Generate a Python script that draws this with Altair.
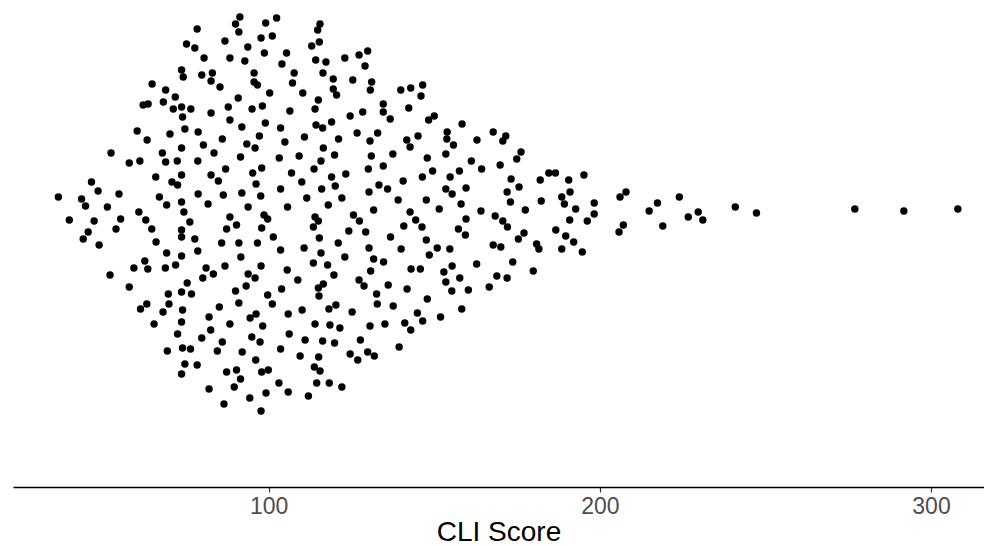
import altair as alt
import pandas as pd

# CLI score of each point and its vertical jitter (arbitrary units, 0 = centre line)
cli_score = [
    # left edge
    64.8, 68.9, 71.8, 62.1, 63.6, 68.2, 71.2, 60.3, 63.3, 70.2, 52.4, 57.9, 61.1, 67.9, 68.9,
    72.4, 65.9, 70.8, 72.5, 46.5, 48.5, 54.8, 36.5, 43.5, 44.7, 51.3, 67.0, 69.2, 60.8,
    39.8, 47.3, 55.3, 62.9, 53.9, 45.5, 44.0, 48.8, 64.7, 66.0, 69.2, 62.6, 63.5, 59.3, 68.8,
    71.9, 52.1, 57.9, 69.7, 63.2, 61.3, 69.9, 68.1, 65.4, 72.5, 69.4,
    # 73 - 118, upper half
    91.3, 90.0, 91.0, 99.1, 102.4, 115.5, 114.8, 78.4, 86.8, 97.7,
    101.1, 115.3, 113.0, 75.2, 77.7, 93.7, 80.5, 88.3, 92.8, 98.7,
    105.4, 104.0, 114.2, 117.3, 73.7, 74.2, 79.8, 83.0, 82.6, 85.3,
    95.6, 95.6, 96.6, 107.7, 107.2, 116.4, 110.3, 100.3, 90.8, 87.8,
    95.0, 98.1, 73.7, 76.5, 74.0, 82.6, 106.4, 114.0, 115.0, 88.3,
    91.9, 99.0, 103.6, 114.3, 116.3, 74.7, 78.7, 86.0, 97.2, 93.4,
    95.9, 104.9, 110.8, 73.7, 80.3, 83.5, 91.5, 103.2, 109.2, 116.5,
    78.6, 115.8, 87.0, 97.9, 95.2, 106.9, 113.7, 82.6, 84.8, 73.7,
    96.2, 110.0, 78.7, 86.3, 91.9, 97.6, 103.6, 116.0, 81.7, 93.8,
    105.7, 111.5, 118.0, 73.7,
    # 73 - 118, lower half
    74.4, 76.2, 73.7, 73.7, 77.7, 78.6, 73.7, 88.3, 90.3, 87.3,
    98.6, 99.7, 97.9, 101.4, 85.8, 91.0, 96.6, 103.6, 114.0, 115.0,
    113.5, 115.3, 110.7, 115.8, 91.6, 86.8, 97.7, 81.1, 83.3, 80.1,
    93.8, 95.9, 93.2, 90.0, 105.6, 108.8, 103.9, 113.5, 117.8, 115.0,
    116.5, 115.2, 75.4, 73.7, 76.7, 99.7, 101.1, 91.0, 85.1, 74.0,
    82.0, 94.4, 96.2, 105.9, 110.1, 118.2, 73.7, 88.3, 98.2, 82.5,
    79.8, 86.0, 84.5, 94.9, 97.4, 92.0, 103.6, 106.2, 111.0, 114.0,
    116.3, 74.0, 76.4, 109.5, 115.1, 96.1, 74.7, 78.4, 73.7, 87.3,
    90.3, 91.5, 97.9, 99.9, 113.8, 115.5, 103.1, 105.9, 114.5, 118.3,
    89.6, 82.0, 99.2, 112.0, 94.3, 86.5, 97.7,
    # 118 - 165, upper half
    123.0, 127.3, 129.9, 129.1, 119.5, 125.4, 131.1, 130.7, 119.5, 120.5,
    139.9, 142.9, 146.5, 146.0, 134.6, 134.6, 136.7, 142.3, 148.3, 150.0,
    158.4, 119.0, 124.6, 128.4, 121.1, 126.7, 132.9, 130.6, 141.7, 142.7,
    145.1, 153.9, 153.8, 155.8, 162.9, 119.9, 131.0, 137.5, 147.9, 153.5,
    161.2, 164.3, 123.3, 130.1, 134.6, 146.4, 149.5, 154.8, 157.6, 119.0,
    120.1, 133.3, 135.9, 130.3, 140.6, 153.5, 155.4, 159.6, 122.1, 139.1,
    147.6, 158.1, 151.5,
    # 118 - 165, lower half
    125.6, 127.4, 131.7, 142.7, 144.4, 146.3, 140.8, 164.1, 159.6, 157.3,
    159.4, 124.2, 129.3, 136.8, 147.6, 121.0, 130.3, 140.0, 150.9, 154.7,
    148.5, 123.0, 131.7, 134.7, 130.8, 119.7, 143.0, 145.8, 155.4, 152.9,
    157.7, 162.8, 127.3, 128.8, 136.1, 141.8, 153.5, 155.3, 160.3, 132.6,
    132.8, 137.6, 147.9, 120.3, 125.2, 144.9, 146.5, 151.9, 158.3, 118.5,
    121.5, 130.6, 135.1, 141.1, 142.9, 119.9, 127.7, 139.4, 124.6, 126.9,
    129.9, 131.9, 122.1,
    # 165 - 207
    167.8, 171.6, 170.7, 176.2, 174.9, 169.9, 173.2, 175.6, 172.0, 173.0,
    177.5, 168.4, 170.7, 172.1, 175.4, 177.1, 167.8, 170.1, 180.9, 181.6,
    173.7, 179.9, 168.9, 172.0, 166.6, 182.0, 184.6, 186.6, 190.6, 195.2,
    182.3, 188.5, 189.3, 191.0, 192.7, 198.3, 198.3, 190.9, 196.2, 186.7,
    189.7, 192.1, 188.5, 194.7, 206.1, 205.8, 207.1,
    # right tail
    207.9, 214.9, 217.4, 219.0, 224.0, 226.7, 229.7, 231.1, 240.9, 247.3,
    277.0, 291.8, 308.1,
]

jitter = [
    128, 122, 115, 107, 108, 110, 103, 81, 72, 78, 59, 49, 51, 59, 50,
    51, 35, 30, 27, 30, 21, 18, 15, 13, 6, 5, 15, 7, 0,
    -8, -9, -7, -8, -17, -20, -27, -33, -17, -30, -41, -49, -57, -56, -56,
    -53, -63, -75, -82, -92, -97, -92, -100, -112, -122, -139,
    195, 188, 180, 189, 194, 188, 182, 183, 171, 174,
    176, 170, 166, 168, 164, 165, 154, 154, 151, 159,
    159, 148, 152, 150, 142, 135, 137, 139, 131, 125,
    139, 130, 127, 139, 129, 139, 119, 119, 114, 105,
    103, 106, 105, 103, 95, 99, 101, 103, 112, 92,
    85, 89, 84, 87, 84, 83, 80, 73, 76, 68,
    64, 70, 75, 64, 67, 59, 55, 54, 56, 64,
    51, 51, 43, 44, 39, 39, 43, 37, 31, 37,
    28, 30, 18, 17, 19, 16, 23, 23, 8, 5,
    5, 14, 7, 10,
    0, -10, -18, -25, -27, -39, -44, -5, -13, -17,
    -3, -7, -16, -25, -31, -31, -31, -38, -5, -9,
    -15, -26, -36, -41, -45, -54, -54, -56, -62, -66,
    -62, -66, -74, -79, -58, -68, -77, -51, -53, -76,
    -72, -84, -71, -80, -82, -83, -92, -91, -95, -98,
    -105, -106, -102, -102, -98, -97, -110, -112, -114, -118,
    -126, -130, -139, -125, -130, -140, -137, -122, -128, -112,
    -129, -136, -137, -144, -145, -148, -152, -153, -162, -160,
    -158, -167, -160, -158, -155, -159, -171, -180, -171, -171,
    -175, -177, -181, -184, -186, -192, -199,
    154, 157, 161, 146, 133, 132, 130, 122, 123, 117,
    122, 124, 127, 116, 108, 100, 93, 104, 92, 96,
    88, 90, 96, 100, 73, 79, 79, 71, 72, 65,
    76, 80, 73, 67, 72, 57, 56, 58, 54, 58,
    51, 43, 38, 43, 46, 35, 41, 35, 41, 35,
    26, 27, 23, 20, 31, 23, 18, 24, 14, 12,
    12, 8, 3,
    -3, -9, 2, 0, -8, -15, -14, 1, -7, -17,
    -23, -19, -20, -25, -28, -31, -36, -37, -36, -37,
    -43, -45, -47, -50, -59, -63, -57, -57, -54, -60,
    -66, -52, -68, -74, -73, -77, -70, -79, -78, -82,
    -92, -94, -87, -93, -100, -101, -109, -105, -97, -113,
    -116, -114, -112, -111, -118, -131, -128, -135, -142, -148,
    -140, -144, -175,
    80, 76, 71, 60, 53, 47, 33, 25, 20, 10,
    2, -4, -9, -15, -27, -21, -33, -35, -32, -37,
    -50, -59, -64, -66, -75, 32, 39, 39, 32, 37,
    11, 15, 8, 20, 3, 9, -2, -8, -9, -18,
    -24, -30, -37, -40, 15, -20, -13,
    20, 1, 9, -14, 15, -5, 0, -8, 5, -1,
    3, 1, 3,
]

x_ticks = [100, 200, 300]

df = pd.DataFrame({"cli": cli_score, "jitter": jitter})

chart = alt.Chart(df).mark_circle(size=55, color="black", opacity=1).encode(
    x=alt.X("cli:Q",
            scale=alt.Scale(domain=[22.8, 316.0], nice=False, zero=False),
            axis=alt.Axis(values=x_ticks, title="CLI Score", grid=False,
                          domainColor="black", domainWidth=1.3,
                          tickColor="#333333", tickSize=5, tickWidth=1.2,
                          labelFont="Liberation Sans", labelFontSize=23,
                          labelColor="#4D4D4D", labelPadding=3,
                          titleFont="Liberation Sans", titleFontSize=28,
                          titleFontWeight="normal", titleColor="black",
                          titleBaseline="alphabetic", titleY=53)),
    y=alt.Y("jitter:Q",
            scale=alt.Scale(domain=[-275, 204], nice=False, zero=False),
            axis=None),
).properties(
    width=971, height=479,
    padding={"left": 5, "top": 0, "right": 0, "bottom": 59},
    autosize=alt.AutoSizeParams(type="none"),
).configure_view(stroke=None)

chart.save("out.html", embed_options={"renderer": "svg", "actions": False})
